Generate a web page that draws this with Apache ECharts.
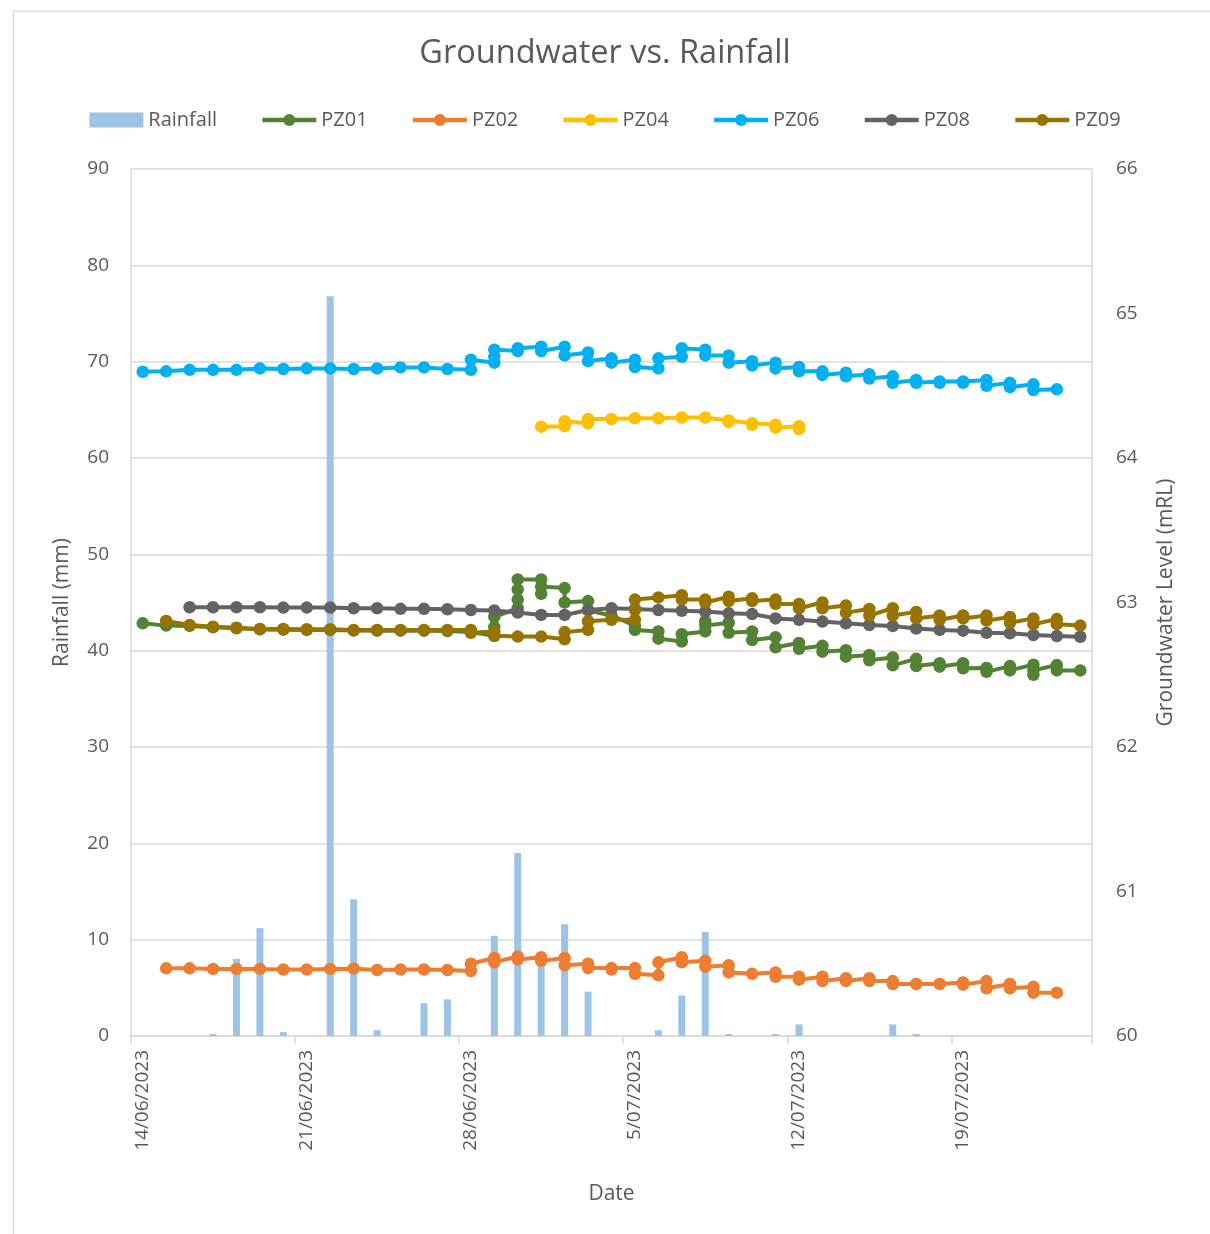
<!DOCTYPE html>
<html>
<head>
<meta charset="utf-8">
<title>Groundwater vs. Rainfall</title>
<script src="https://cdn.jsdelivr.net/npm/echarts@6/dist/echarts.min.js"></script>
<style>
  html, body { margin: 0; padding: 0; background: #ffffff; }
  #chart { width: 1210px; height: 1234px; }
</style>
</head>
<body>
<div id="chart"></div>
<script>
// Daily categories: 14/06/2023 .. 24/07/2023
const startDay = new Date(2023, 5, 14);
const dayCount = 41;
const dates = [];
for (let i = 0; i < dayCount; i++) {
  const d = new Date(startDay.getFullYear(), startDay.getMonth(), startDay.getDate() + i);
  dates.push(d.getDate() + '/' + String(d.getMonth() + 1).padStart(2, '0') + '/' + d.getFullYear());
}

// Daily rainfall (mm)
const rainfall = [0, 0, 0, 0.2, 8.0, 11.2, 0.4, 0, 76.8, 14.2, 0.6, 0, 3.4, 3.8, 0, 10.4, 19.0, 7.6, 11.6, 4.6,
  0, 0, 0.6, 4.2, 10.8, 0.2, 0, 0.2, 1.2, 0, 0, 0, 1.2, 0.2, 0, 0, 0, 0, 0, 0, 0];

// Groundwater readings (mRL), one list of readings per day (null = not measured)
const pz01 = [[62.856], [62.84], [62.838], [62.828], [62.822], [62.814], [62.812], [62.81], [62.81], [62.806],
  [62.805], [62.805], [62.805], [62.803], [62.795], [62.77, 62.83, 62.90], [62.96, 63.02, 63.09, 63.16],
  [63.16, 63.06, 63.11], [63.10, 63.00], [63.01, 62.945], [62.91], [62.84, 62.81], [62.80, 62.75], [62.73, 62.78],
  [62.80, 62.87, 62.84], [62.86, 62.79], [62.80, 62.74], [62.76, 62.69], [62.72, 62.68], [62.70, 62.66],
  [62.67, 62.625], [62.637, 62.60], [62.62, 62.565], [62.61, 62.56], [62.58, 62.556], [62.58, 62.545],
  [62.547, 62.52], [62.56, 62.53], [62.57, 62.50, 62.53], [62.567, 62.53], [62.53]];

const pz02 = [null, [60.468], [60.468], [60.464], [60.464], [60.464], [60.46], [60.46], [60.464], [60.466],
  [60.457], [60.46], [60.46], [60.457], [60.45, 60.50], [60.54, 60.51], [60.55, 60.53], [60.545, 60.52],
  [60.54, 60.49], [60.50, 60.47], [60.47, 60.46], [60.47, 60.43], [60.42, 60.51], [60.545, 60.51], [60.52, 60.48],
  [60.49, 60.44], [60.43], [60.44, 60.41], [60.41, 60.39], [60.41, 60.38], [60.40, 60.38], [60.40, 60.38],
  [60.38, 60.36], [60.36], [60.36], [60.37, 60.355], [60.38, 60.33], [60.36, 60.33], [60.34, 60.30], [60.30], null];

const pz04 = [null, null, null, null, null, null, null, null, null, null, null, null, null, null, null, null, null,
  [64.217], [64.22, 64.255], [64.24, 64.27], [64.27], [64.275], [64.275], [64.28], [64.28], [64.26, 64.25],
  [64.24, 64.23], [64.23, 64.21], [64.22, 64.20], null, null, null, null, null, null, null, null, null, null, null, null];

const pz06 = [[64.597], [64.60], [64.61], [64.61], [64.61], [64.62], [64.616], [64.62], [64.62], [64.616],
  [64.62], [64.627], [64.627], [64.616], [64.61, 64.68], [64.66, 64.70, 64.75], [64.74, 64.76], [64.77, 64.74],
  [64.77, 64.71], [64.73, 64.67], [64.69, 64.66], [64.68, 64.63], [64.62, 64.69], [64.70, 64.76], [64.75, 64.71],
  [64.71, 64.66], [64.67, 64.64], [64.66, 64.62], [64.63, 64.60], [64.60, 64.575], [64.59, 64.565], [64.58, 64.55],
  [64.565, 64.52], [64.54, 64.52], [64.53, 64.52], [64.53, 64.52], [64.54, 64.50], [64.52, 64.49], [64.51, 64.47],
  [64.475], null];

const pz08 = [null, null, [62.967], [62.967], [62.967], [62.967], [62.965], [62.965], [62.965], [62.96], [62.96],
  [62.956], [62.956], [62.953], [62.948], [62.945], [62.93], [62.914], [62.914], [62.948], [62.96], [62.955],
  [62.948], [62.943], [62.937], [62.925], [62.92], [62.89], [62.88], [62.868], [62.856], [62.844], [62.837],
  [62.82], [62.81], [62.805], [62.79], [62.787], [62.775], [62.768], [62.763]];

const pz09 = [null, [62.872], [62.844], [62.833], [62.826], [62.817], [62.817], [62.815], [62.815], [62.81],
  [62.81], [62.81], [62.81], [62.81], [62.81, 62.79], [62.80, 62.77], [62.764], [62.764], [62.745, 62.795],
  [62.81, 62.87], [62.88], [62.88, 62.95, 63.02], [63.035], [63.05, 63.02], [63.02, 63.00], [63.04, 63.01],
  [63.03, 63.01], [63.02, 62.99], [62.99, 62.96], [63.00, 62.96], [62.98, 62.93], [62.955, 62.91], [62.96, 62.91],
  [62.935, 62.89], [62.91, 62.88], [62.91, 62.89], [62.91, 62.875], [62.90, 62.86], [62.89, 62.85],
  [62.885, 62.85], [62.84]];

// Axis ranges
const rainTicks = { min: 0, max: 90, interval: 10 };
const levelTicks = { min: 60, max: 66, interval: 1 };

const textColor = '#595959';
const gridColor = '#D9D9D9';
const fontFamily = '"Open Sans", "Noto Sans", sans-serif';

// Flatten per-day readings into [dayIndex, value] points
function toPoints(readings) {
  const pts = [];
  readings.forEach((day, i) => {
    if (!day) return;
    day.forEach(v => pts.push([i, v]));
  });
  return pts;
}

function levelSeries(name, color, readings) {
  return {
    name: name,
    type: 'line',
    yAxisIndex: 1,
    data: toPoints(readings),
    symbol: 'circle',
    symbolSize: 12.5,
    showAllSymbol: true,
    lineStyle: { color: color, width: 4 },
    itemStyle: { color: color },
    emphasis: { disabled: true }
  };
}

function legendLine(name) {
  return { name: name, lineStyle: { width: 4.5 } };
}

const chart = echarts.init(document.getElementById('chart'), null, { renderer: 'canvas' });

chart.setOption({
  animation: false,
  backgroundColor: '#ffffff',
  textStyle: { fontFamily: fontFamily, color: textColor },
  graphic: [{
    type: 'rect',
    left: 11, top: 9,
    shape: { width: 1300, height: 1300 },
    style: { fill: 'none', stroke: gridColor, lineWidth: 1.5 },
    silent: true
  }],
  title: {
    text: 'Groundwater vs. Rainfall',
    left: 'center',
    top: 32,
    textStyle: { fontFamily: fontFamily, fontSize: 32.5, fontWeight: 'normal', color: textColor }
  },
  legend: {
    top: 105,
    left: 'center',
    itemWidth: 54,
    itemHeight: 15,
    itemGap: 43,
    textStyle: { fontFamily: fontFamily, fontSize: 20, color: textColor },
    data: [
      { name: 'Rainfall', icon: 'rect' },
      legendLine('PZ01'), legendLine('PZ02'), legendLine('PZ04'),
      legendLine('PZ06'), legendLine('PZ08'), legendLine('PZ09')
    ]
  },
  grid: { left: 131, right: 118, top: 169, bottom: 198, containLabel: false },
  xAxis: {
    type: 'category',
    data: dates,
    boundaryGap: true,
    name: 'Date',
    nameLocation: 'middle',
    nameGap: 148,
    nameTextStyle: { fontFamily: fontFamily, fontSize: 21, color: textColor },
    axisLine: { show: true, lineStyle: { color: gridColor, width: 1.5 } },
    axisTick: { show: true, interval: 6, length: 8, lineStyle: { color: gridColor, width: 1.5 } },
    axisLabel: { interval: 6, rotate: 90, margin: 14, fontSize: 19, color: textColor, fontFamily: fontFamily },
    splitLine: { show: false }
  },
  yAxis: [{
    type: 'value',
    min: rainTicks.min, max: rainTicks.max, interval: rainTicks.interval,
    name: 'Rainfall (mm)',
    nameLocation: 'middle',
    nameRotate: 90,
    nameGap: 58,
    nameTextStyle: { fontFamily: fontFamily, fontSize: 21, color: textColor },
    axisLine: { show: true, lineStyle: { color: gridColor, width: 1.5 } },
    axisTick: { show: false },
    axisLabel: { margin: 22, fontSize: 19, color: textColor, fontFamily: fontFamily },
    splitLine: { show: true, lineStyle: { color: gridColor, width: 1.5 } }
  }, {
    type: 'value',
    min: levelTicks.min, max: levelTicks.max, interval: levelTicks.interval,
    name: 'Groundwater Level (mRL)',
    nameLocation: 'middle',
    nameRotate: 90,
    nameGap: 64,
    nameTextStyle: { fontFamily: fontFamily, fontSize: 21, color: textColor },
    axisLine: { show: true, lineStyle: { color: gridColor, width: 1.5 } },
    axisTick: { show: false },
    axisLabel: { margin: 24, fontSize: 19, color: textColor, fontFamily: fontFamily },
    splitLine: { show: false }
  }],
  series: [
    {
      name: 'Rainfall',
      type: 'bar',
      yAxisIndex: 0,
      data: rainfall,
      barWidth: 7,
      itemStyle: { color: '#9DC3E6' },
      emphasis: { disabled: true }
    },
    levelSeries('PZ01', '#548235', pz01),
    levelSeries('PZ02', '#ED7D31', pz02),
    levelSeries('PZ04', '#FFC000', pz04),
    levelSeries('PZ06', '#00B0F0', pz06),
    levelSeries('PZ08', '#636363', pz08),
    levelSeries('PZ09', '#997300', pz09)
  ]
});
</script>
</body>
</html>
